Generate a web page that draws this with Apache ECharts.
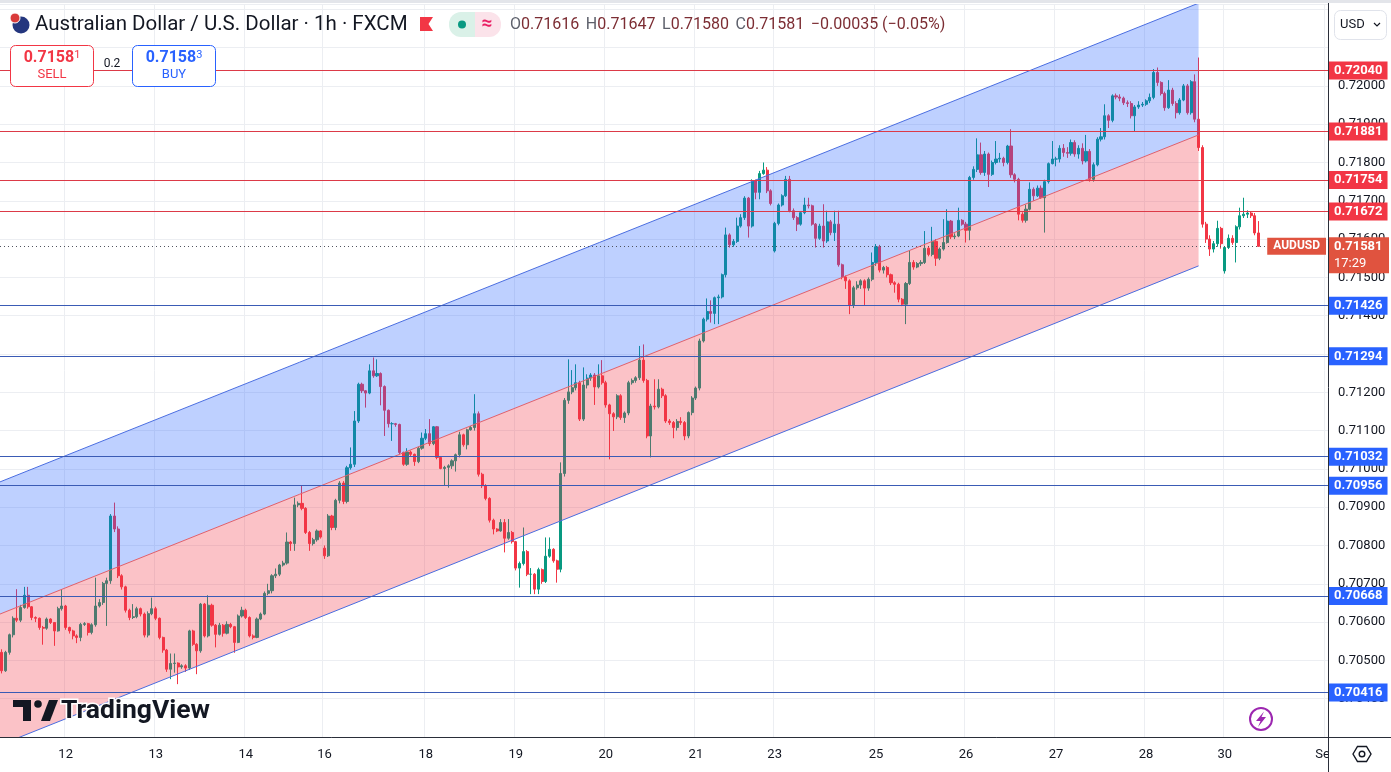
<!DOCTYPE html>
<html>
<head>
<meta charset="utf-8">
<title>AUDUSD 1h</title>
<script src="https://cdn.jsdelivr.net/npm/echarts@6/dist/echarts.min.js"></script>
<style>
  html, body { margin: 0; padding: 0; background: #fff; }
  #echarts { width: 1391px; height: 772px; }
</style>
</head>
<body>
<div id="echarts"></div>
<script>
// AUD/USD hourly candles (FXCM)
var firstOpen = 0.70521;
var sessionOpens = { 86: 0.70793, 206: 0.71569, 326: 0.71517 }; // sunday opens after weekend gaps
var closes = [
  0.70473,0.70521,0.70567,0.70610,0.70605,0.70638,0.70670,0.70640,0.70612,0.70610,0.70586,0.70584,
  0.70608,0.70599,0.70577,0.70635,0.70642,0.70586,0.70577,0.70564,0.70560,0.70594,0.70596,0.70573,
  0.70593,0.70642,0.70651,0.70701,0.70708,0.70877,0.70843,0.70721,0.70692,0.70631,0.70612,0.70614,
  0.70635,0.70621,0.70566,0.70622,0.70635,0.70610,0.70560,0.70527,0.70477,0.70492,0.70493,0.70483,
  0.70486,0.70480,0.70577,0.70542,0.70525,0.70647,0.70564,0.70644,0.70592,0.70568,0.70592,0.70571,
  0.70594,0.70588,0.70547,0.70616,0.70631,0.70612,0.70564,0.70560,0.70608,0.70621,0.70675,0.70682,
  0.70721,0.70725,0.70749,0.70754,0.70809,0.70805,0.70906,0.70910,0.70897,0.70834,0.70805,0.70815,
  0.70838,0.70822,0.70773,0.70877,0.70847,0.70918,0.70963,0.70915,0.71003,0.71012,0.71125,0.71221,
  0.71204,0.71198,0.71256,0.71243,0.71249,0.71215,0.71153,0.71118,0.71118,0.71116,0.71043,0.71012,
  0.71044,0.71038,0.71019,0.71054,0.71080,0.71092,0.71066,0.71110,0.71030,0.71001,0.71004,0.71008,
  0.71021,0.71037,0.71089,0.71063,0.71102,0.71108,0.71144,0.70986,0.70956,0.70923,0.70866,0.70843,
  0.70838,0.70860,0.70819,0.70834,0.70810,0.70741,0.70753,0.70784,0.70725,0.70725,0.70686,0.70737,
  0.70706,0.70772,0.70790,0.70760,0.70738,0.70988,0.71179,0.71201,0.71212,0.71225,0.71130,0.71219,
  0.71237,0.71245,0.71214,0.71243,0.71225,0.71167,0.71144,0.71136,0.71191,0.71134,0.71146,0.71225,
  0.71231,0.71238,0.71284,0.71231,0.71086,0.71164,0.71162,0.71208,0.71191,0.71125,0.71121,0.71108,
  0.71124,0.71121,0.71086,0.71147,0.71185,0.71211,0.71334,0.71391,0.71411,0.71406,0.71447,0.71449,
  0.71507,0.71611,0.71585,0.71594,0.71634,0.71656,0.71707,0.71634,0.71752,0.71722,0.71771,0.71780,
  0.71726,0.71693,0.71641,0.71689,0.71713,0.71756,0.71674,0.71656,0.71639,0.71669,0.71689,0.71687,
  0.71639,0.71602,0.71634,0.71595,0.71645,0.71617,0.71639,0.71533,0.71501,0.71491,0.71428,0.71473,
  0.71480,0.71491,0.71472,0.71495,0.71539,0.71580,0.71519,0.71526,0.71507,0.71486,0.71482,0.71443,
  0.71430,0.71484,0.71539,0.71527,0.71536,0.71539,0.71576,0.71560,0.71594,0.71550,0.71574,0.71591,
  0.71647,0.71606,0.71608,0.71649,0.71639,0.71623,0.71761,0.71782,0.71820,0.71774,0.71822,0.71769,
  0.71800,0.71809,0.71811,0.71800,0.71843,0.71768,0.71756,0.71665,0.71649,0.71678,0.71730,0.71713,
  0.71733,0.71708,0.71750,0.71797,0.71809,0.71809,0.71837,0.71826,0.71824,0.71852,0.71822,0.71837,
  0.71804,0.71829,0.71756,0.71794,0.71861,0.71867,0.71922,0.71910,0.71974,0.71971,0.71968,0.71956,
  0.71954,0.71922,0.71945,0.71950,0.71952,0.71961,0.71970,0.72035,0.72009,0.71980,0.71943,0.71989,
  0.71954,0.71930,0.71963,0.72000,0.71930,0.72011,0.71913,0.71839,0.71639,0.71600,0.71574,0.71588,
  0.71628,0.71588,0.71578,0.71602,0.71591,0.71632,0.71661,0.71665,0.71668,0.71661,0.71616,0.71581
];
var highs = [
  0.70529,0.70525,0.70570,0.70615,0.70686,0.70645,0.70692,0.70692,0.70642,0.70615,0.70612,0.70590,
  0.70612,0.70610,0.70600,0.70640,0.70686,0.70645,0.70588,0.70580,0.70568,0.70598,0.70600,0.70598,
  0.70597,0.70716,0.70660,0.70705,0.70716,0.70882,0.70912,0.70850,0.70725,0.70695,0.70635,0.70647,
  0.70640,0.70638,0.70625,0.70628,0.70664,0.70640,0.70612,0.70562,0.70530,0.70518,0.70518,0.70495,
  0.70490,0.70490,0.70580,0.70580,0.70545,0.70650,0.70650,0.70670,0.70648,0.70595,0.70598,0.70595,
  0.70602,0.70598,0.70590,0.70620,0.70640,0.70635,0.70615,0.70568,0.70612,0.70625,0.70680,0.70700,
  0.70725,0.70740,0.70752,0.70760,0.70834,0.70812,0.70925,0.70915,0.70956,0.70900,0.70838,0.70820,
  0.70842,0.70840,0.70800,0.70882,0.70880,0.70922,0.70968,0.70968,0.71008,0.71056,0.71151,0.71225,
  0.71225,0.71206,0.71273,0.71291,0.71286,0.71252,0.71218,0.71155,0.71122,0.71120,0.71118,0.71045,
  0.71054,0.71048,0.71040,0.71058,0.71095,0.71104,0.71130,0.71112,0.71112,0.71033,0.71008,0.71012,
  0.71025,0.71040,0.71097,0.71092,0.71105,0.71112,0.71195,0.71150,0.70990,0.70960,0.70926,0.70870,
  0.70845,0.70869,0.70869,0.70869,0.70838,0.70812,0.70758,0.70847,0.70788,0.70741,0.70728,0.70742,
  0.70740,0.70821,0.70821,0.70793,0.70763,0.71017,0.71185,0.71286,0.71258,0.71273,0.71230,0.71265,
  0.71247,0.71250,0.71250,0.71273,0.71284,0.71230,0.71170,0.71148,0.71195,0.71195,0.71150,0.71230,
  0.71236,0.71242,0.71321,0.71325,0.71235,0.71170,0.71234,0.71234,0.71212,0.71195,0.71130,0.71125,
  0.71130,0.71135,0.71125,0.71150,0.71190,0.71215,0.71340,0.71395,0.71445,0.71440,0.71450,0.71455,
  0.71510,0.71630,0.71615,0.71600,0.71656,0.71665,0.71712,0.71710,0.71756,0.71755,0.71778,0.71800,
  0.71788,0.71730,0.71645,0.71693,0.71717,0.71765,0.71765,0.71680,0.71660,0.71673,0.71708,0.71708,
  0.71690,0.71642,0.71640,0.71691,0.71674,0.71650,0.71674,0.71674,0.71536,0.71505,0.71495,0.71478,
  0.71490,0.71495,0.71495,0.71500,0.71565,0.71587,0.71585,0.71530,0.71530,0.71510,0.71490,0.71486,
  0.71446,0.71488,0.71569,0.71545,0.71540,0.71545,0.71621,0.71580,0.71632,0.71600,0.71578,0.71652,
  0.71678,0.71650,0.71615,0.71682,0.71652,0.71645,0.71765,0.71790,0.71863,0.71852,0.71830,0.71826,
  0.71805,0.71856,0.71825,0.71815,0.71846,0.71887,0.71772,0.71760,0.71670,0.71690,0.71748,0.71735,
  0.71740,0.71740,0.71755,0.71800,0.71856,0.71815,0.71845,0.71848,0.71840,0.71860,0.71858,0.71845,
  0.71850,0.71872,0.71835,0.71800,0.71866,0.71890,0.71952,0.71926,0.71978,0.71980,0.71978,0.71972,
  0.71962,0.71960,0.71950,0.71960,0.71958,0.71965,0.71980,0.72044,0.72048,0.72012,0.71985,0.72015,
  0.71995,0.71960,0.71968,0.72005,0.72005,0.72015,0.72030,0.72074,0.71845,0.71645,0.71610,0.71595,
  0.71648,0.71632,0.71582,0.71612,0.71610,0.71636,0.71682,0.71708,0.71675,0.71672,0.71668,0.71647
];
var lows = [
  0.70466,0.70470,0.70515,0.70560,0.70600,0.70600,0.70635,0.70635,0.70605,0.70600,0.70580,0.70541,
  0.70580,0.70595,0.70538,0.70575,0.70630,0.70580,0.70570,0.70555,0.70545,0.70550,0.70590,0.70565,
  0.70568,0.70588,0.70638,0.70645,0.70590,0.70700,0.70835,0.70715,0.70685,0.70625,0.70605,0.70608,
  0.70610,0.70615,0.70560,0.70560,0.70618,0.70605,0.70555,0.70520,0.70470,0.70451,0.70468,0.70438,
  0.70478,0.70470,0.70475,0.70538,0.70464,0.70520,0.70560,0.70560,0.70588,0.70534,0.70565,0.70562,
  0.70568,0.70584,0.70520,0.70545,0.70612,0.70608,0.70560,0.70555,0.70558,0.70605,0.70618,0.70670,
  0.70675,0.70715,0.70720,0.70745,0.70750,0.70786,0.70786,0.70900,0.70892,0.70830,0.70786,0.70800,
  0.70810,0.70818,0.70765,0.70770,0.70840,0.70840,0.70910,0.70908,0.70910,0.70998,0.71005,0.71120,
  0.71198,0.71160,0.71195,0.71238,0.71240,0.71166,0.71086,0.71108,0.71073,0.71110,0.71038,0.71008,
  0.71008,0.71032,0.71008,0.71015,0.71050,0.71075,0.71060,0.71062,0.71025,0.70999,0.70956,0.70951,
  0.71000,0.70993,0.71030,0.71058,0.71051,0.71100,0.71100,0.70980,0.70950,0.70918,0.70860,0.70829,
  0.70835,0.70836,0.70782,0.70815,0.70805,0.70735,0.70690,0.70748,0.70720,0.70673,0.70673,0.70673,
  0.70700,0.70702,0.70768,0.70755,0.70703,0.70730,0.70980,0.71170,0.71195,0.71205,0.71125,0.71125,
  0.71210,0.71230,0.71167,0.71210,0.71220,0.71160,0.71025,0.71099,0.71130,0.71128,0.71120,0.71140,
  0.71220,0.71225,0.71232,0.71225,0.71080,0.71030,0.71155,0.71158,0.71185,0.71120,0.71115,0.71080,
  0.71100,0.71115,0.71075,0.71080,0.71140,0.71180,0.71205,0.71330,0.71385,0.71382,0.71378,0.71378,
  0.71445,0.71500,0.71578,0.71580,0.71590,0.71630,0.71650,0.71604,0.71630,0.71704,0.71704,0.71768,
  0.71720,0.71688,0.71565,0.71636,0.71685,0.71710,0.71670,0.71650,0.71621,0.71635,0.71665,0.71680,
  0.71635,0.71578,0.71598,0.71578,0.71590,0.71610,0.71595,0.71528,0.71495,0.71470,0.71404,0.71420,
  0.71468,0.71470,0.71428,0.71465,0.71490,0.71530,0.71513,0.71510,0.71500,0.71480,0.71460,0.71435,
  0.71425,0.71378,0.71480,0.71520,0.71524,0.71530,0.71535,0.71555,0.71555,0.71530,0.71545,0.71570,
  0.71588,0.71600,0.71600,0.71605,0.71635,0.71591,0.71597,0.71755,0.71775,0.71768,0.71765,0.71736,
  0.71765,0.71795,0.71800,0.71790,0.71795,0.71760,0.71748,0.71649,0.71643,0.71643,0.71675,0.71700,
  0.71710,0.71705,0.71617,0.71745,0.71795,0.71790,0.71800,0.71815,0.71812,0.71818,0.71815,0.71810,
  0.71795,0.71800,0.71750,0.71750,0.71790,0.71855,0.71860,0.71890,0.71905,0.71965,0.71960,0.71950,
  0.71945,0.71915,0.71881,0.71940,0.71945,0.71948,0.71955,0.71965,0.72000,0.71975,0.71935,0.71940,
  0.71948,0.71915,0.71925,0.71960,0.71925,0.71925,0.71905,0.71830,0.71630,0.71590,0.71556,0.71565,
  0.71580,0.71575,0.71510,0.71574,0.71585,0.71539,0.71625,0.71655,0.71655,0.71655,0.71610,0.71580
];

// time axis: hourly slots incl. the empty space to the right
var slotCount = 354;
var tickIndex = [17, 41, 65, 86, 113, 137, 161, 185, 206, 233, 257, 281, 305, 326, 353];
var tickText = ['12', '13', '14', '16', '18', '19', '20', '21', '23', '25', '26', '27', '28', '30', 'Sep'];

// horizontal levels drawn on the chart
var resistance = [0.72040, 0.71881, 0.71754, 0.71672];
var support = [0.71426, 0.71294, 0.71032, 0.70956, 0.70668, 0.70416];

// rising channel, anchored at two candles
var channelIdx = [0, 319];
var channelUpper = [0.70968, 0.72216];
var channelMid = [0.70623, 0.71872];
var channelLower = [0.70281, 0.71530];

var countdown = '17:29';

var RED = '#f23645', BLUE = '#2962ff', UP = '#089981';
var FONT = 'Roboto';

var opens = closes.map(function (c, i) {
  if (i === 0) return firstOpen;
  return sessionOpens[i] !== undefined ? sessionOpens[i] : closes[i - 1];
});
var candles = closes.map(function (c, i) { return [opens[i], c, lows[i], highs[i]]; });

var cats = [];
for (var i = 0; i < slotCount; i++) cats.push(String(i));
var tickMap = {};
tickIndex.forEach(function (t, k) { tickMap[t] = tickText[k]; });
function isTick(idx) { return tickMap[idx] !== undefined; }

function boxLabel(text, bg, extra) {
  var l = {
    show: true, position: 'end', distance: 1, formatter: text, opacity: 1,
    color: '#fff', backgroundColor: bg, padding: [3, 5, 2, 5],
    fontSize: 13, fontWeight: 'bold', fontFamily: FONT
  };
  for (var k in extra) l[k] = extra[k];
  return l;
}
function levelLine(v, lineColor, boxColor) {
  return { yAxis: v, lineStyle: { color: lineColor, width: 1, type: 'solid' }, label: boxLabel(v.toFixed(5), boxColor, {}) };
}

var last = closes.length - 1;
var lastClose = closes[last];
var lastBox = '#e0533f';
var hidden = { color: 'rgba(0,0,0,0)', width: 0 };

var marks = [];
resistance.forEach(function (v) { marks.push(levelLine(v, '#dc3a47', RED)); });
support.forEach(function (v) { marks.push(levelLine(v, '#3a5bb5', BLUE)); });
marks.push({ yAxis: lastClose, lineStyle: hidden,
  label: boxLabel(countdown, lastBox, { verticalAlign: 'top', fontWeight: 'normal', width: 50, padding: [11, 5, 3, 5] }) });
marks.push({ yAxis: lastClose, lineStyle: { color: '#50535e', width: 1, type: [1, 3] },
  label: boxLabel(lastClose.toFixed(5), lastBox, { width: 50 }) });
marks.push({ yAxis: lastClose, lineStyle: hidden,
  label: boxLabel('AUDUSD', lastBox, { position: 'insideEnd', distance: 2, verticalAlign: 'middle', fontSize: 12, padding: [3, 6, 2, 6] }) });

// header numbers come from the last candle
var chg = lastClose - opens[last];
var sign = chg < 0 ? '\u2212' : '+';
var chgTxt = sign + Math.abs(chg).toFixed(5) + ' (' + sign + Math.abs(chg / opens[last] * 100).toFixed(2) + '%)';
var ohlcTxt = '{l|O}{v|' + opens[last].toFixed(5) + '}  {l|H}{v|' + highs[last].toFixed(5) +
  '}  {l|L}{v|' + lows[last].toFixed(5) + '}  {l|C}{v|' + lastClose.toFixed(5) + '}  {v|' + chgTxt + '}';
var bidTxt = lastClose.toFixed(5);

var myChart = echarts.init(document.getElementById('echarts'));
var option = {
  animation: false,
  backgroundColor: '#fff',
  grid: { left: 0, right: 63, top: 4, bottom: 35 },
  xAxis: {
    type: 'category', data: cats, boundaryGap: true,
    axisLine: { show: true, lineStyle: { color: '#2a2e39', width: 1 } },
    axisTick: { show: false },
    axisLabel: {
      interval: function (idx) { return isTick(idx); },
      formatter: function (v, idx) { return tickMap[idx] || ''; },
      color: '#131722', fontSize: 13, fontFamily: FONT, margin: 11
    },
    splitLine: { show: true, interval: function (idx) { return isTick(idx); }, lineStyle: { color: '#eceef2' } }
  },
  yAxis: {
    type: 'value', position: 'right', min: 0.703, max: 0.722138, interval: 0.001,
    axisLine: { show: false }, axisTick: { show: false },
    axisLabel: {
      formatter: function (v) { return v > 0.7205 ? '' : v.toFixed(5); },
      color: '#131722', fontSize: 13, fontFamily: FONT, margin: 10,
      showMinLabel: false, showMaxLabel: false
    },
    splitLine: { show: true, lineStyle: { color: '#eceef2' } }
  },
  series: [
    {
      type: 'candlestick', data: candles, barWidth: 2.6, clip: false, z: 2,
      itemStyle: { color: UP, color0: RED, borderColor: UP, borderColor0: RED, borderWidth: 1 },
      markLine: { silent: true, symbol: ['none', 'none'], precision: 5, animation: false, data: marks }
    },
    {
      type: 'custom', z: 3, silent: true, clip: true,
      data: [[channelIdx[0], channelMid[0]]],
      renderItem: function (params, api) {
        var cs = params.coordSys;
        function seg(arr) {
          var a = api.coord([channelIdx[0], arr[0]]);
          var b = api.coord([channelIdx[1], arr[1]]);
          var k = (b[1] - a[1]) / (b[0] - a[0]);
          return [[cs.x, a[1] + (cs.x - a[0]) * k], b];
        }
        var u = seg(channelUpper), m = seg(channelMid), l = seg(channelLower);
        return {
          type: 'group',
          children: [
            { type: 'polygon', shape: { points: [u[0], u[1], m[1], m[0]] }, style: { fill: 'rgba(41,98,255,0.3)' } },
            { type: 'polygon', shape: { points: [m[0], m[1], l[1], l[0]] }, style: { fill: 'rgba(242,54,69,0.3)' } },
            { type: 'line', shape: { x1: u[0][0], y1: u[0][1], x2: u[1][0], y2: u[1][1] }, style: { stroke: '#4a6de0', lineWidth: 1 } },
            { type: 'line', shape: { x1: m[0][0], y1: m[0][1], x2: m[1][0], y2: m[1][1] }, style: { stroke: '#e0606c', lineWidth: 1 } },
            { type: 'line', shape: { x1: l[0][0], y1: l[0][1], x2: l[1][0], y2: l[1][1] }, style: { stroke: '#4a6de0', lineWidth: 1 } }
          ]
        };
      }
    }
  ],
  graphic: [
    // chrome
    { type: 'rect', z: 100, shape: { x: 0, y: 0, width: 1391, height: 3 }, style: { fill: '#e3e5ea' } },
    { type: 'rect', z: 100, shape: { x: 1329, y: 738, width: 62, height: 34 }, style: { fill: '#fff' } },
    { type: 'line', z: 101, shape: { x1: 1328.5, y1: 3, x2: 1328.5, y2: 772 }, style: { stroke: '#2a2e39', lineWidth: 1 } },
    { type: 'line', z: 101, shape: { x1: 1328, y1: 737.5, x2: 1391, y2: 737.5 }, style: { stroke: '#2a2e39', lineWidth: 1 } },
    // settings icon
    { type: 'polygon', z: 101, shape: { points: [[1353, 754], [1357.5, 746.5], [1366.5, 746.5], [1371, 754], [1366.5, 761.5], [1357.5, 761.5]] },
      style: { fill: 'none', stroke: '#131722', lineWidth: 1.4 } },
    { type: 'circle', z: 101, shape: { cx: 1362, cy: 754, r: 2.8 }, style: { fill: 'none', stroke: '#131722', lineWidth: 1.4 } },
    // USD selector
    { type: 'rect', z: 100, shape: { x: 1334.5, y: 10.5, width: 52, height: 29, r: 6 }, style: { fill: '#fff', stroke: '#e0e3eb' } },
    { type: 'text', z: 101, style: { x: 1340, y: 25, text: 'USD', font: '13px ' + FONT, fill: '#131722', verticalAlign: 'middle' } },
    { type: 'polyline', z: 101, shape: { points: [[1374, 23], [1377, 26], [1380, 23]] }, style: { stroke: '#131722', lineWidth: 1.2, fill: 'none' } },
    // header
    { type: 'circle', z: 100, shape: { cx: 21, cy: 25, r: 8.5 }, style: { fill: '#24367e' } },
    { type: 'circle', z: 100, shape: { cx: 15, cy: 18, r: 5 }, style: { fill: '#d93a3a', stroke: '#fff', lineWidth: 1 } },
    { type: 'text', z: 100, style: { x: 35, y: 25, text: 'Australian Dollar / U.S. Dollar \u00b7 1h \u00b7 FXCM', font: '20.5px ' + FONT, fill: '#131722', verticalAlign: 'middle' } },
    { type: 'polygon', z: 100, shape: { points: [[420, 17], [433, 17], [428.5, 24], [433, 31], [420, 31]] }, style: { fill: RED } },
    { type: 'rect', z: 100, shape: { x: 449, y: 12, width: 26, height: 25, r: [12, 0, 0, 12] }, style: { fill: '#daf1e8' } },
    { type: 'rect', z: 100, shape: { x: 475, y: 12, width: 26, height: 25, r: [0, 12, 12, 0] }, style: { fill: '#fbe3ea' } },
    { type: 'circle', z: 101, shape: { cx: 462, cy: 24.5, r: 4 }, style: { fill: UP } },
    { type: 'text', z: 101, style: { x: 487, y: 24, text: '\u2248', font: 'bold 19px ' + FONT, fill: '#e91e63', align: 'center', verticalAlign: 'middle' } },
    { type: 'text', z: 100, style: { x: 510, y: 25, text: ohlcTxt, verticalAlign: 'middle',
      rich: { l: { fontSize: 16, fontFamily: FONT, fill: '#5d606b' }, v: { fontSize: 16, fontFamily: FONT, fill: '#7c2d33' } } } },
    // sell / buy
    { type: 'rect', z: 100, shape: { x: 10.5, y: 45.5, width: 83, height: 41, r: 5 }, style: { fill: '#fff', stroke: RED } },
    { type: 'text', z: 101, style: { x: 52, y: 58, text: '{a|' + bidTxt.slice(0, 6) + '}{b|' + bidTxt.slice(6) + '}', align: 'center', verticalAlign: 'middle',
      rich: { a: { fontSize: 16, fontWeight: 'bold', fontFamily: FONT, fill: RED }, b: { fontSize: 11, fontFamily: FONT, fill: RED, verticalAlign: 'top', padding: [0, 0, 6, 0] } } } },
    { type: 'text', z: 101, style: { x: 52, y: 75, text: 'SELL', font: '13px ' + FONT, fill: RED, align: 'center', verticalAlign: 'middle' } },
    { type: 'text', z: 101, style: { x: 112, y: 64, text: '0.2', font: '12px ' + FONT, fill: '#131722', align: 'center', verticalAlign: 'middle' } },
    { type: 'rect', z: 100, shape: { x: 132.5, y: 45.5, width: 83, height: 41, r: 5 }, style: { fill: '#fff', stroke: BLUE } },
    { type: 'text', z: 101, style: { x: 174, y: 58, text: '{a|0.7158}{b|3}', align: 'center', verticalAlign: 'middle',
      rich: { a: { fontSize: 16, fontWeight: 'bold', fontFamily: FONT, fill: BLUE }, b: { fontSize: 11, fontFamily: FONT, fill: BLUE, verticalAlign: 'top', padding: [0, 0, 6, 0] } } } },
    { type: 'text', z: 101, style: { x: 174, y: 75, text: 'BUY', font: '13px ' + FONT, fill: BLUE, align: 'center', verticalAlign: 'middle' } },
    // TradingView logo
    { type: 'rect', z: 100, shape: { x: 13, y: 700, width: 18, height: 7 }, style: { fill: '#131722' } },
    { type: 'rect', z: 100, shape: { x: 23, y: 700, width: 8, height: 21 }, style: { fill: '#131722' } },
    { type: 'circle', z: 100, shape: { cx: 38, cy: 704, r: 3.8 }, style: { fill: '#131722' } },
    { type: 'polygon', z: 100, shape: { points: [[41, 721], [49, 700], [58, 700], [50, 721]] }, style: { fill: '#131722' } },
    { type: 'text', z: 100, style: { x: 61, y: 711, text: 'TradingView', font: 'bold 26.5px ' + FONT, fill: '#131722', stroke: '#fff', lineWidth: 3, verticalAlign: 'middle' } },
    // lightning button
    { type: 'circle', z: 100, shape: { cx: 1261, cy: 719, r: 11 }, style: { fill: '#fff', stroke: '#9c27b0', lineWidth: 2 } },
    { type: 'polygon', z: 101, shape: { points: [[1264, 711.5], [1256, 721], [1260.5, 721], [1258, 727], [1266, 717], [1261.5, 717]] }, style: { fill: '#9c27b0' } }
  ]
};
myChart.setOption(option);
</script>
</body>
</html>
